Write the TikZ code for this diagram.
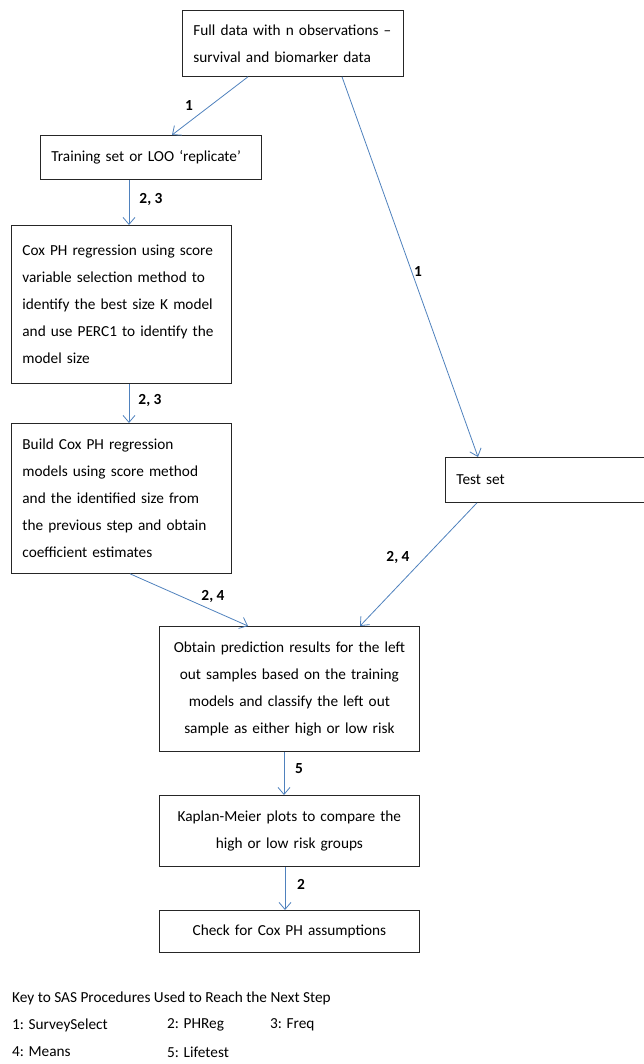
\documentclass[tikz,border=0pt]{standalone}
\usepackage{fontspec}
\setmainfont{Carlito}
\usetikzlibrary{arrows.meta}
\definecolor{flowblue}{RGB}{79,129,189}
\tikzset{
    box/.style={draw=black!85, line width=0.8pt, anchor=north west, inner xsep=11pt, inner ysep=2pt,
        font=\fontsize{15.3}{27}\selectfont},
    flow/.style={draw=flowblue, line width=0.8pt, -{Straight Barb[length=7pt,width=12pt]}},
    steplabel/.style={font=\fontsize{15.4}{18}\selectfont\bfseries},
    keytext/.style={anchor=west, inner sep=0pt, font=\fontsize{15.3}{27}\selectfont}
}
\begin{document}
\begin{tikzpicture}[x=1pt,y=-1pt]
    \useasboundingbox (0,0) rectangle (644,1064);

    % boxes
    \node[box, text width=199pt, minimum height=66pt, align=left] (full) at (182,10)
        {Full data with n observations --\\survival and biomarker data};
    \node[box, text width=199pt, minimum height=44pt, align=left] (train) at (40,135)
        {Training set or LOO `replicate'};
    \node[box, text width=198pt, minimum height=158pt, align=left] (cox) at (11,225)
        {Cox PH regression using score\\variable selection method to\\identify the best size K model\\and use PERC1 to identify the\\model size};
    \node[box, text width=198pt, minimum height=150pt, align=left] (build) at (11,423)
        {Build Cox PH regression\\models using score method\\and the identified size from\\the previous step and obtain\\coefficient estimates};
    \node[box, text width=183pt, minimum height=45pt, align=left] (test) at (445,457)
        {Test set};
    \node[box, text width=238pt, minimum height=125pt, align=center] (pred) at (159,626)
        {Obtain prediction results for the left\\out samples based on the training\\models and classify the left out\\sample as either high or low risk};
    \node[box, text width=238pt, minimum height=71pt, align=center] (km) at (159,795)
        {Kaplan-Meier plots to compare the\\high or low risk groups};
    \node[box, text width=238pt, minimum height=42pt, align=center] (check) at (159,910)
        {Check for Cox PH assumptions};

    % connectors
    \draw[flow] ([xshift=66pt]full.south west) -- ([xshift=132pt]train.north west);
    \draw[flow] ([xshift=160pt]full.south west) -- ([xshift=33pt]test.north west);
    \draw[flow] ([xshift=89pt]train.south west) -- ([xshift=118pt]cox.north west);
    \draw[flow] ([xshift=118pt]cox.south west) -- ([xshift=118pt]build.north west);
    \draw[flow] ([xshift=119pt]build.south west) -- ([xshift=89pt]pred.north west);
    \draw[flow] ([xshift=32pt]test.south west) -- ([xshift=201pt]pred.north west);
    \draw[flow] ([xshift=125pt]pred.south west) -- ([xshift=125pt]km.north west);
    \draw[flow] ([xshift=126pt]km.south west) -- ([xshift=126pt]check.north west);

    % step labels
    \node[steplabel] (l1) at (189,106) {1};
    \node[steplabel] (l2) at (418,271) {1};
    \node[steplabel] (l3) at (151,199) {2, 3};
    \node[steplabel] (l4) at (150,400) {2, 3};
    \node[steplabel] (l5) at (213,596) {2, 4};
    \node[steplabel] (l6) at (398,557) {2, 4};
    \node[steplabel] (l7) at (299,769) {5};
    \node[steplabel] (l8) at (301,884) {2};

    % key
    \node[keytext] (keyhead) at (12,998) {Key to SAS Procedures Used to Reach the Next Step};
    \node[keytext] (k1) at (12,1025) {1: SurveySelect};
    \node[keytext] (k2) at (167,1025) {2: PHReg};
    \node[keytext] (k3) at (270,1025) {3: Freq};
    \node[keytext] (k4) at (12,1052) {4: Means};
    \node[keytext] (k5) at (167,1052) {5: Lifetest};
\end{tikzpicture}
\end{document}
